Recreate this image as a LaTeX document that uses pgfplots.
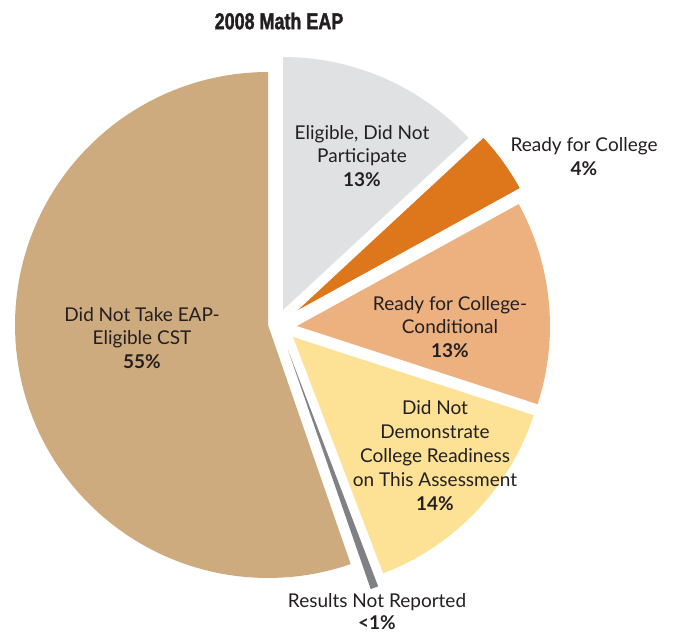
\documentclass[border=0pt]{standalone}
\usepackage{fontspec}
\setmainfont{Lato}
\newfontfamily\titlefont[FakeStretch=0.78,FakeBold=1.5]{Liberation Sans}
\usepackage{pgfplots}
\usepackage{pgfplotstable}
\pgfplotsset{compat=1.18}

\definecolor{tanc}{HTML}{CDAB7E}
\definecolor{greyc}{HTML}{808185}
\definecolor{yelc}{HTML}{FDE296}
\definecolor{condc}{HTML}{EDB07F}
\definecolor{readyc}{HTML}{DE771C}
\definecolor{eligc}{HTML}{E0E1E3}
\definecolor{txt}{HTML}{231F20}

% slices counter-clockwise from 12 o'clock; dx/dy = explode offset
\pgfplotstableread{
pct   dx   dy   col
55.3  0    0    tanc
0.5   20   -25  greyc
14.2  25   -12  yelc
13.0  29   -1   condc
3.9   30   15   readyc
13.1  15   15   eligc
}\slices

\def\pieCX{268}
\def\pieCY{312}
\def\pieR{253}

% build the outline of every slice (apex + arc) before drawing
\xdef\slAngA{90}
\pgfplotsinvokeforeach{0,...,5}{%
  \pgfplotstablegetelem{#1}{pct}\of\slices \xdef\slPct{\pgfplotsretval}%
  \pgfplotstablegetelem{#1}{dx}\of\slices \xdef\slDX{\pgfplotsretval}%
  \pgfplotstablegetelem{#1}{dy}\of\slices \xdef\slDY{\pgfplotsretval}%
  \pgfplotstablegetelem{#1}{col}\of\slices \expandafter\xdef\csname slcol#1\endcsname{\pgfplotsretval}%
  \pgfmathsetmacro\slAngB{\slAngA+3.6*\slPct}%
  \pgfmathtruncatemacro\slN{max(1,ceil((\slAngB-\slAngA)/2))}%
  \pgfmathsetmacro\slStep{(\slAngB-\slAngA)/\slN}%
  \pgfmathsetmacro\slOX{\pieCX+\slDX}%
  \pgfmathsetmacro\slOY{\pieCY+\slDY}%
  \xdef\slPts{(\slOX,\slOY)}%
  \foreach \slJ in {0,...,\slN} {%
    \pgfmathsetmacro\slAng{\slAngA+\slStep*\slJ}%
    \pgfmathsetmacro\slX{\slOX+\pieR*cos(\slAng)}%
    \pgfmathsetmacro\slY{\slOY+\pieR*sin(\slAng)}%
    \xdef\slPts{\slPts (\slX,\slY)}%
  }%
  \expandafter\xdef\csname slpts#1\endcsname{\slPts}%
  \xdef\slAngA{\slAngB}%
}

\begin{document}
\begin{tikzpicture}
\begin{axis}[
    scale only axis,
    width=677pt, height=637pt,
    xmin=0, xmax=677, ymin=0, ymax=637,
    hide axis,
    clip=false,
  ]
  \path (axis cs:0,0) rectangle (axis cs:677,637);

  \pgfplotsinvokeforeach{0,...,5}{
    \edef\doit{\noexpand\addplot[fill=\csname slcol#1\endcsname, draw=none]
      coordinates {\csname slpts#1\endcsname};}
    \doit
  }

  \begin{scope}[every node/.style={align=center, inner sep=0pt, text=txt,
      font=\fontsize{19}{23.8}\selectfont}]
    \node at (axis cs:362,481) {Eligible, Did Not\\Participate\\\textbf{13\%}};
    \node at (axis cs:584,480.5) {Ready for College\\\textbf{4\%}};
    \node at (axis cs:450,310) {Ready for College-\\Conditional\\\textbf{13\%}};
    \node at (axis cs:435,181.5) {Did Not\\Demonstrate\\College Readiness\\on This Assessment\\\textbf{14\%}};
    \node at (axis cs:142,299) {Did Not Take EAP-\\Eligible CST\\\textbf{55\%}};
    \node[font=\fontsize{19}{22}\selectfont] at (axis cs:377,25) {Results Not Reported\\\textbf{<1\%}};
  \end{scope}
  \node[inner sep=0pt, text=txt, font=\titlefont\bfseries\fontsize{23}{26}\selectfont]
    at (axis cs:279,616) {2008 Math EAP};
\end{axis}
\end{tikzpicture}
\end{document}
